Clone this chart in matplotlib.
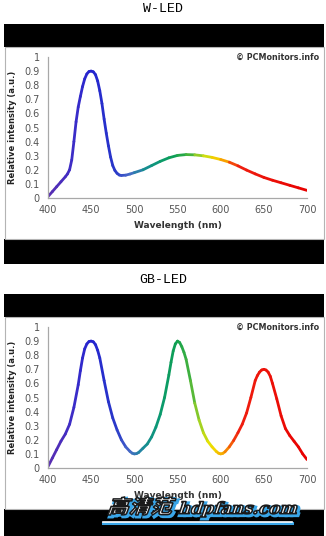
import matplotlib
matplotlib.use("Agg")
import matplotlib.pyplot as plt
import matplotlib.patheffects as pe
import numpy as np
from matplotlib.collections import LineCollection
from matplotlib.colors import LinearSegmentedColormap
from matplotlib.patches import Rectangle, PathPatch
from matplotlib.lines import Line2D
from matplotlib.textpath import TextPath
from matplotlib.font_manager import FontProperties
from matplotlib.transforms import Affine2D, IdentityTransform

# W-LED spectrum (nm, a.u.)
wl_w = [400, 405, 410, 415, 420, 422.5, 425, 427.5, 430, 432.5,
        435, 437.5, 440, 442.5, 445, 447.5, 450, 452.5, 455, 457.5,
        460, 462.5, 465, 467.5, 470, 472.5, 475, 477.5, 480, 482.5,
        485, 490, 495, 500, 510, 520, 530, 540, 550, 560,
        570, 580, 590, 600, 610, 620, 630, 640, 650, 660,
        670, 680, 690, 700]
wled = [0.01, 0.045, 0.08, 0.115, 0.15, 0.17, 0.20, 0.27, 0.40, 0.54,
        0.645, 0.72, 0.79, 0.845, 0.88, 0.897, 0.90, 0.895, 0.875, 0.83,
        0.76, 0.67, 0.56, 0.46, 0.37, 0.29, 0.23, 0.195, 0.175, 0.163,
        0.16, 0.162, 0.17, 0.18, 0.20, 0.23, 0.26, 0.285, 0.302, 0.308,
        0.306, 0.299, 0.288, 0.273, 0.254, 0.228, 0.198, 0.171, 0.146, 0.126,
        0.108, 0.09, 0.072, 0.054]

# GB-LED spectrum
wl_gb = [400, 405, 410, 415, 420, 425, 430, 435,
         437.5, 440, 442.5, 445, 447.5, 450, 452.5, 455, 457.5, 460,
         465, 470, 475, 480, 485, 490, 495,
         497.5, 500, 502.5, 505,
         510, 515, 520, 525, 530, 535, 540,
         542.5, 545, 547.5, 550, 552.5, 555, 557.5, 560,
         565, 570, 575, 580, 585, 590, 595,
         597.5, 600, 602.5, 605,
         610, 615, 620, 625, 630, 635, 640,
         642.5, 645, 647.5, 650, 652.5, 655, 657.5, 660,
         665, 670, 675, 680, 685, 690, 695, 700]
gbled = [0.01, 0.07, 0.13, 0.19, 0.24, 0.31, 0.43, 0.59,
         0.69, 0.78, 0.845, 0.88, 0.897, 0.90, 0.895, 0.875, 0.835, 0.78,
         0.62, 0.47, 0.355, 0.27, 0.20, 0.15, 0.117,
         0.105, 0.10, 0.102, 0.11,
         0.14, 0.17, 0.22, 0.29, 0.38, 0.50, 0.66,
         0.75, 0.83, 0.88, 0.90, 0.89, 0.86, 0.82, 0.77,
         0.62, 0.46, 0.34, 0.25, 0.19, 0.15, 0.117,
         0.105, 0.10, 0.104, 0.115,
         0.15, 0.195, 0.25, 0.31, 0.39, 0.50, 0.62,
         0.655, 0.68, 0.695, 0.70, 0.695, 0.68, 0.65, 0.60,
         0.49, 0.37, 0.28, 0.23, 0.19, 0.15, 0.10, 0.06]

titles = ["W-LED", "GB-LED"]
xs = [wl_w, wl_gb]
series = [wled, gbled]
yticks = [0, 0.1, 0.2, 0.3, 0.4, 0.5, 0.6, 0.7, 0.8, 0.9, 1]
ylabels = ["0", "0.1", "0.2", "0.3", "0.4", "0.5", "0.6", "0.7", "0.8", "0.9", "1"]
xticks = [400, 450, 500, 550, 600, 650, 700]

# spectrum colours
stops = [(400, "#5a2eb0"), (430, "#3b2dc8"), (450, "#2424d0"), (480, "#2a3ac8"),
         (495, "#4a6ac8"), (510, "#1a8a9a"), (530, "#0a9a70"), (550, "#10a050"),
         (565, "#48b43c"), (578, "#a8d420"), (590, "#f0e400"), (605, "#f8a000"),
         (620, "#f02010"), (700, "#e80000")]
spec = LinearSegmentedColormap.from_list(
    "spec", [((w - 400) / 300, c) for w, c in stops])

W, H = 326, 536
fig = plt.figure(figsize=(W / 100, H / 100), dpi=100)
fig.patch.set_facecolor("white")


def fx(px):
    return px / W


def fy(py):
    return 1 - py / H


# panel frames: (title y, black top start, white start, white end, black end)
panels = [(9, 24, 47, 239, 264), (280, 294, 317, 509, 536)]
axes_top = [57, 327]

for i, (ty, b0, w0, w1, b1) in enumerate(panels):
    fig.text(fx(163), fy(ty), titles[i], ha="center", va="center",
             fontsize=9.5, family="Liberation Mono", color="black")
    fig.add_artist(Rectangle((fx(4), fy(w0)), fx(320), (w0 - b0) / H,
                             transform=fig.transFigure, color="black", lw=0,
                             zorder=-2))
    fig.add_artist(Rectangle((fx(4), fy(b1)), fx(320), (b1 - w1) / H,
                             transform=fig.transFigure, color="black", lw=0,
                             zorder=-2))
    fig.add_artist(Rectangle((fx(4.5), fy(w1)), fx(319), (w1 - w0) / H,
                             transform=fig.transFigure, facecolor="white",
                             edgecolor="#b4b4b4", lw=0.8, zorder=-2))

    top = axes_top[i]
    ax = fig.add_axes([fx(48), fy(top + 141), fx(259), 141 / H])
    ax.set_xlim(400, 700)
    ax.set_ylim(0, 1)
    ax.patch.set_alpha(0)
    for s in ["top", "right"]:
        ax.spines[s].set_visible(False)
    for s in ["left", "bottom"]:
        ax.spines[s].set_color("#a8a8a8")
        ax.spines[s].set_linewidth(0.9)
    ax.set_yticks(yticks)
    ax.set_yticklabels(ylabels)
    ax.set_xticks(xticks)
    ax.tick_params(length=0, labelsize=7, labelcolor="#555555")
    ax.tick_params(axis="y", pad=6)
    ax.tick_params(axis="x", pad=5)
    ax.set_xlabel("Wavelength (nm)", fontsize=6.5, fontweight="bold",
                  color="#333333", labelpad=4)
    ax.set_ylabel("Relative intensity (a.u.)", fontsize=6, fontweight="bold",
                  color="#222222", labelpad=5)

    x = np.array(xs[i], dtype=float)
    y = np.array(series[i])
    pts = np.column_stack([x, y]).reshape(-1, 1, 2)
    segs = np.concatenate([pts[:-1], pts[1:]], axis=1)
    mid = (x[:-1] + x[1:]) / 2
    lc = LineCollection(segs, colors=spec((mid - 400) / 300), linewidths=2.0,
                        capstyle="round", joinstyle="round")
    ax.add_collection(lc)

    fig.text(fx(319), fy(top), "\u00a9 PCMonitors.info", ha="right",
             va="center", fontsize=5.8, fontweight="bold", color="#333333")


# watermark, drawn as slanted text paths fitted into pixel boxes
def fitted_text(s, prop, box, shear):
    tp = TextPath((0, 0), s, size=20, prop=prop)
    p = tp.transformed(Affine2D().skew_deg(shear, 0))
    ext = p.get_extents()
    x0, y0, x1, y1 = box
    tr = (Affine2D().translate(-ext.x0, -ext.y0)
          .scale((x1 - x0) / ext.width, (y1 - y0) / ext.height)
          .translate(x0, H - y1))
    p = p.transformed(tr)
    patch = PathPatch(p, transform=IdentityTransform(), facecolor="#f4f4f4",
                      edgecolor="#1a1a1a", lw=1.1, zorder=5,
                      path_effects=[pe.Stroke(offset=(1.2, -1.2), linewidth=2.6,
                                              foreground="#3aa6e8"),
                                    pe.Normal()])
    fig.add_artist(patch)


fitted_text("高清范", FontProperties(family="Noto Sans CJK SC", weight="bold"),
            (108, 497, 176, 515), 18)
fitted_text("hdpfans.com", FontProperties(family="DejaVu Serif", weight="bold"),
            (178, 501.5, 297, 517), 18)
fig.add_artist(Line2D([fx(103), fx(292)], [fy(523), fy(523)],
                      transform=fig.transFigure, color="#3aa6e8", lw=2.2, zorder=5))
fig.add_artist(Line2D([fx(103), fx(292)], [fy(521.6), fy(521.6)],
                      transform=fig.transFigure, color="white", lw=1.2, zorder=5))

fig.savefig("out.png", dpi=100)
